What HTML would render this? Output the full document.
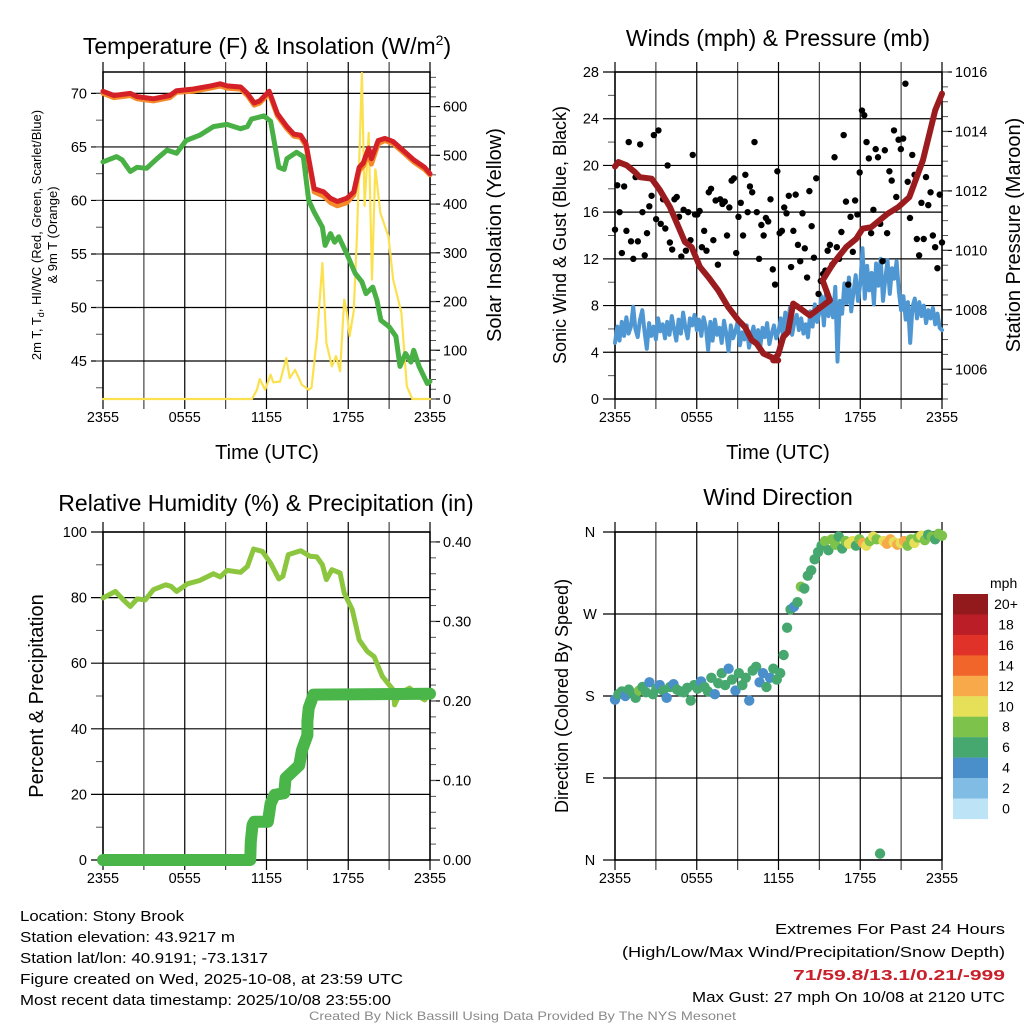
<!DOCTYPE html>
<html><head><meta charset="utf-8"><style>
html,body{margin:0;padding:0;background:#fff;}
svg{display:block;font-family:"Liberation Sans",sans-serif;}
</style></head><body>
<svg id="fig" width="1024" height="1024" viewBox="0 0 1024 1024" xmlns="http://www.w3.org/2000/svg">
<text x="267" y="54" font-size="23" text-anchor="middle">Temperature (F) &amp; Insolation (W/m<tspan dy="-9" font-size="14">2</tspan><tspan dy="9">)</tspan></text>
<text x="778" y="46" font-size="23" text-anchor="middle">Winds (mph) &amp; Pressure (mb)</text>
<text x="266" y="511" font-size="23" text-anchor="middle">Relative Humidity (%) &amp; Precipitation (in)</text>
<text x="778" y="505" font-size="23" text-anchor="middle">Wind Direction</text>
<text x="267" y="459" font-size="20" text-anchor="middle">Time (UTC)</text>
<text x="778" y="459" font-size="20" text-anchor="middle">Time (UTC)</text>
<text font-size="13" text-anchor="middle" transform="translate(41,235) rotate(-90)">2m T, T<tspan dy="3" font-size="9">d</tspan><tspan dy="-3">, HI/WC (Red, Green, Scarlet/Blue)</tspan></text>
<text font-size="13" text-anchor="middle" transform="translate(57,235) rotate(-90)">&amp; 9m T (Orange)</text>
<text font-size="20" text-anchor="middle" transform="translate(501,235) rotate(-90)">Solar Insolation (Yellow)</text>
<text font-size="18" text-anchor="middle" transform="translate(566,235) rotate(-90)">Sonic Wind &amp; Gust (Blue, Black)</text>
<text font-size="20" text-anchor="middle" transform="translate(1020,235) rotate(-90)">Station Pressure (Maroon)</text>
<text font-size="20" text-anchor="middle" transform="translate(43,696) rotate(-90)">Percent &amp; Precipitation</text>
<text font-size="18" text-anchor="middle" transform="translate(568,696) rotate(-90)">Direction (Colored By Speed)</text>
<g font-size="15" font-family="'Liberation Sans Narrow','Liberation Sans',sans-serif">
<text x="20" y="921" textLength="164" lengthAdjust="spacingAndGlyphs">Location: Stony Brook</text>
<text x="20" y="942" textLength="215" lengthAdjust="spacingAndGlyphs">Station elevation: 43.9217 m</text>
<text x="20" y="963" textLength="248" lengthAdjust="spacingAndGlyphs">Station lat/lon: 40.9191; -73.1317</text>
<text x="20" y="984" textLength="383" lengthAdjust="spacingAndGlyphs">Figure created on Wed, 2025-10-08, at 23:59 UTC</text>
<text x="20" y="1005" textLength="371" lengthAdjust="spacingAndGlyphs">Most recent data timestamp: 2025/10/08 23:55:00</text>
<text x="1005" y="934" text-anchor="end" textLength="230" lengthAdjust="spacingAndGlyphs">Extremes For Past 24 Hours</text>
<text x="1005" y="957" text-anchor="end" textLength="383" lengthAdjust="spacingAndGlyphs">(High/Low/Max Wind/Precipitation/Snow Depth)</text>
<text x="1005" y="980" text-anchor="end" fill="#c8202a" font-weight="bold" textLength="212" lengthAdjust="spacingAndGlyphs">71/59.8/13.1/0.21/-999</text>
<text x="1005" y="1002" text-anchor="end" textLength="313" lengthAdjust="spacingAndGlyphs">Max Gust: 27 mph On 10/08 at 2120 UTC</text>
<text x="309" y="1020" fill="#8a8a8a" font-size="12" textLength="427" lengthAdjust="spacingAndGlyphs">Created By Nick Bassill Using Data Provided By The NYS Mesonet</text>
</g>
</svg>
<script>
// ---------- data ----------
const timeLabels = ["2355","0555","1155","1755","2355"];
const tempHours = [0,0.8,2.0,2.5,3.7,4.9,5.4,6.6,7.9,8.6,9.1,10.1,10.6,11.1,11.5,12.2,12.8,13.5,14.0,14.5,14.9,15.5,16.2,16.7,17.2,17.9,18.4,18.8,19.1,19.5,19.7,20.2,20.7,21.3,22.1,22.8,23.6,24];
const temp2m = [70.2,69.8,70.0,69.7,69.5,69.8,70.25,70.4,70.7,70.9,70.7,70.6,70.0,69.1,69.3,70.2,68.1,66.9,66.2,66.1,65.3,61.1,60.8,60.2,59.9,60.2,60.8,63.1,63.5,64.9,63.9,65.6,65.8,65.5,64.6,63.8,63.1,62.5];
const temp9m = [70.0,69.6,69.8,69.5,69.3,69.6,70.1,70.2,70.5,70.7,70.5,70.4,69.8,68.9,69.1,70.0,67.9,66.7,66.0,65.9,65.1,60.8,60.4,59.8,59.5,59.8,60.5,62.8,63.2,64.5,63.4,65.3,65.6,65.3,64.4,63.6,62.9,62.4];
const dewHours = [0,1.0,1.4,2.0,2.5,3.2,3.96,4.7,5.4,6.1,7.1,8.1,9.1,10.1,10.6,10.9,11.8,12.3,12.9,13.3,13.5,14.2,14.7,15.1,15.5,16.1,16.3,16.7,17.0,17.3,17.9,18.5,19.0,19.3,19.8,20.1,20.4,21.0,21.5,21.8,22.2,22.6,22.8,23.2,23.8,24];
const dewPoint = [63.6,64.1,63.8,62.7,63.1,63.0,63.9,64.7,64.4,65.6,66.1,66.9,67.1,66.7,66.9,67.6,67.9,67.4,63.1,62.9,63.9,64.5,64.1,60.0,58.9,57.5,55.8,56.9,56.1,56.6,55.0,53.2,52.4,51.3,51.9,50.7,48.8,48.2,47.3,44.5,45.7,44.9,46.0,44.5,42.9,43.1];
const solarHours = [0,10.93,11.3,11.5,11.9,12.3,12.5,13.0,13.45,13.7,14.1,14.6,15.1,15.3,15.7,16.1,16.4,16.8,17.1,17.4,17.7,17.9,18.1,18.4,18.65,19.0,19.2,19.5,19.74,19.98,20.0,20.35,20.95,21.3,21.9,22.3,22.7,24];
const solarWm2 = [0,0,19,41,19,50,34,36,84,43,60,29,19,23,125,279,115,67,88,57,204,177,129,180,341,669,396,546,245,471,471,382,334,245,177,26,0,0];
const pressHours = [0,0.25,0.86,1.47,1.83,2.69,3.3,4.03,4.77,5.13,5.62,6.24,6.85,7.58,8.31,9.05,9.54,10.03,10.4,10.89,11.98,11.61,11.98,12.35,12.7,13.08,13.45,14.3,15.77,15.24,16.0,16.97,17.7,18.17,18.8,20.0,20.8,21.6,22.6,23.5,24];
const pressure = [1012.82,1012.97,1012.86,1012.63,1012.46,1012.41,1012.02,1011.46,1010.67,1010.28,1010.11,1009.44,1009.1,1008.65,1008.09,1007.65,1007.42,1006.98,1006.86,1006.53,1006.3,1006.3,1006.5,1007.09,1007.25,1008.21,1008.09,1007.81,1008.32,1008.99,1009.55,1010.11,1010.39,1010.73,1010.78,1011.23,1011.46,1011.79,1013.03,1014.71,1015.27];
const windMph = [4.8,6.2,5.0,6.6,5.4,7.0,5.6,6.2,7.9,6.0,5.3,6.8, 7.6,5.8,4.3,6.5,5.4,6.2,5.1,6.9,5.8,6.4,5.2,6.6, 5.5,7.1,6.0,5.0,6.8,5.6,7.4,6.1,5.2,6.9,6.3,7.2, 5.9,6.8,5.4,7.0,6.2,4.2,6.6,5.0,6.8,5.5,6.1,4.8, 6.7,5.6,4.1,6.3,5.2,5.8,6.6,4.6,5.7,5.1,6.3,4.4, 5.4,6.2,4.8,5.9,4.5,6.1,5.3,6.5,4.7,5.6,6.3,5.2, 5.8,6.9,5.4,7.4,6.0,7.8,5.5,6.6,7.2,5.9,6.9,5.6, 6.4,5.3,7.5,6.2,8.1,6.6,7.4,8.8,6.3,9.2,7.1,8.5, 7.0,9.6,3.2,8.4,7.3,9.9,8.2,10.4,7.5,9.1,10.6,8.4, 9.9,12.9,8.6,11.4,9.3,10.8,8.1,11.6,9.7,12.0,8.4,10.2, 11.9,9.0,11.2,10.3,11.8,9.2,7.6,8.8,6.8,8.3,4.8,7.9, 8.6,6.9,8.3,7.1,8.0,6.5,7.6,6.9,7.8,6.4,7.3,6.1,5.9];
const gustMph = [14.5,18.3,16,12.5,18.2,14.4, 22,13.5,12,19,13.5,21.8, 16,12.3,14.2,16.5,17.4,22.6, 15.4,23,15,17.1,14.6,20, 13.4,12.8,17.1,17.3,15.6,12.2, 16.2,12.7,16,13.6,20.9,15.8, 15.8,16.1,13,14.4,12.7,17.7, 18,13.6,17,11.5,17.1,16.7, 16.9,14,16.4,18.7,18.9,12.5, 15.6,16.8,14,19.2,16,18.2, 17.7,22,16,12,14.9,14, 15.5,15.2,17.1,11.1,9.8,19.5, 14.2,14.4,16.4,15.9,17.4,11.3, 14.4,17.5,13.2,11.8,15.9,12.9, 10.4,17.8,14.8,12.1,18.9,9, 10.1,10.7,11,12.7,13.2,11.5, 20.7,13,12,14.3,22.6,16.9, 9.8,15.6,12.6,17,15.8,19.4, 24.7,24.3,22,20.6,14.2,16.2, 21.4,20.7,15,11.8,21.3,14.2, 19.5,18.7,23,17.3,22.2,21.4, 22.3,27,18.6,15.5,20.9,19.2, 13.7,12.3,16.8,13.7,19,16.6, 17.7,14,13,11.2,17.5,13.4];
const rhHours = [0,0.9,1.5,2.0,2.5,3.1,3.7,4.6,5.0,5.4,6.2,7.1,8.1,8.6,9.1,10.1,10.6,11.05,11.7,12.3,12.9,13.2,13.6,14.5,15.2,15.7,16.1,16.4,16.8,17.4,17.7,18.3,18.8,19.4,19.9,20.5,20.9,21.3,21.4,21.8,22.5,23.0,23.6,24];
const rhPct = [79.9,81.9,79.3,77.3,79.6,79.3,82.4,83.9,83.4,81.9,84.2,85.2,87.3,86.3,88.3,87.7,89.5,94.8,94.1,90.5,85.7,86.5,93.1,94.3,92.6,92.4,90.0,85.5,88.5,87.5,81.4,76.3,67.1,63.6,62.0,56.0,53.9,51.9,47.3,50.9,52.4,50.4,48.8,50.9];
const precipHours = [0,10.8,10.85,10.97,11.1,12.1,12.3,12.6,13.3,13.4,13.9,14.4,14.6,15.0,15.0,15.1,15.45,24];
const precipIn = [0,0,0.023,0.044,0.048,0.048,0.071,0.082,0.084,0.103,0.111,0.119,0.138,0.157,0.174,0.191,0.208,0.209];
const dirDeg = [176,182,185,180,187,183,178,186,190,184,195,182,188,192,186,178,190,193,187,185,184,189,175,192,188,196,190,185,200,182,194,205,192,210,198,186,205,192,200,175,208,212,195,205,190,200,210,198,205,225,255,275,278,283,300,298,312,318,330,338,345,350,340,352,346,355,342,350,347,350,345,352,348,345,350,355,352,7,350,347,352,349,346,348,350,345,352,348,354,356,351,357,355,352,358,356];
const dirSpeed = [4,5,6,4,5,6,6,7,5,6,4,6,5,4,6,4,6,4,6,5,5,6,6,6,6,4,5,6,6,4,6,6,6,4,6,4,6,6,6,4,6,6,4,4,6,4,6,6,6,6,6,6,4,6,8,6,6,6,6,6,6,8,6,8,8,6,6,8,10,10,6,8,12,10,8,10,8,6,10,12,12,10,12,10,12,8,8,10,8,10,8,6,8,6,8,8];
const cbarLabels = ["20+","18","16","14","12","10","8","6","4","2","0"];
const cbarColors = ["#921a1d","#bb1e26","#e03228","#f2652a","#f8a94a","#e6df58","#7dc24a","#47a86f","#4a8fca","#80bce4","#bde3f7"];

// ---------- helpers ----------
const NS = "http://www.w3.org/2000/svg";
const svg = document.getElementById("fig");
function mk(tag, attrs, parent){const e=document.createElementNS(NS,tag);for(const k in attrs)e.setAttribute(k,attrs[k]);(parent||svg).appendChild(e);return e;}
function lin(d0,d1,r0,r1){return v=>r0+(v-d0)*(r1-r0)/(d1-d0);}
function speedColor(s){let i=Math.min(10,Math.floor(s/2+0.5));return cbarColors[10-i];}

function panel(name,x0,x1,y0,y1,leftDom,leftMaj,leftMin,leftFmt,rightDom,rightMaj,rightMin,rightFmt){
  const g=mk("g",{});
  
  
  const sx=lin(0,24,x0,x1), sy=lin(leftDom[0],leftDom[1],y1,y0);
  for(let h=0;h<=24;h+=3){
    const l=mk("line",{x1:sx(h),x2:sx(h),y1:y0-10,y2:y1+10,stroke:(h%6===0?"#000":"#444"),"stroke-width":1.2},g);
    
    
  }
  timeLabels.forEach((t,i)=>{
    const tx=mk("text",{x:sx(i*6),y:y1+23,"font-size":14.5,"text-anchor":"middle"},g);
    tx.textContent=t;
    
    
  });
  leftMaj.forEach(v=>{
    const l=mk("line",{x1:x0-12,x2:x1,y1:sy(v),y2:sy(v),stroke:"#000","stroke-width":1.2},g);
    
    
    const tx=mk("text",{x:x0-16,y:sy(v)+5,"font-size":14.5,"text-anchor":"end"},g);
    tx.textContent=leftFmt(v);
    
    
  });
  leftMin.forEach(v=>{
    const l=mk("line",{x1:x0-7,x2:x0,y1:sy(v),y2:sy(v),stroke:"#555","stroke-width":1},g);
    
    
  });
  if(rightDom){
    const ry=lin(rightDom[0],rightDom[1],y1,y0);
    rightMaj.forEach(v=>{
      const l=mk("line",{x1:x1,x2:x1+10,y1:ry(v),y2:ry(v),stroke:"#000","stroke-width":1.2},g);
      
      
      const tx=mk("text",{x:x1+13,y:ry(v)+5,"font-size":14.5},g);
      tx.textContent=rightFmt(v);
      
      
    });
    rightMin.forEach(v=>{
      const l=mk("line",{x1:x1,x2:x1+6,y1:ry(v),y2:ry(v),stroke:"#555","stroke-width":1},g);
      
      
    });
  }
  const f=mk("rect",{x:x0,y:y0,width:x1-x0,height:y1-y0,fill:"none",stroke:"#000","stroke-width":1.5},g);
  
  
  return {sx,sy,ry:rightDom?lin(rightDom[0],rightDom[1],y1,y0):null};
}
function range(a,b,s){const r=[];for(let v=a;v<=b+1e-9;v+=s)r.push(+v.toFixed(4));return r;}
function poly(xs,ys,sx,sy,color,w,name,cap){
  const pts=xs.map((h,i)=>sx(h).toFixed(1)+","+sy(ys[i]).toFixed(1)).join(" ");
  const p=mk("polyline",{points:pts,fill:"none",stroke:color,"stroke-width":w,"stroke-linejoin":"round","stroke-linecap":cap||"round"});
  
  
  return p;
}

// ---------- panel 1 ----------
const p1=panel("temp",103,430,72,399,[41.45,72.0],[45,50,55,60,65,70],range(42.5,72,2.5),v=>v,[0,671],[0,100,200,300,400,500,600],range(0,660,20),v=>v);
poly(solarHours,solarWm2,p1.sx,p1.ry,"#fbe14f",2.2,"solar-line");
poly(tempHours,temp9m,p1.sx,p1.sy,"#f58a2a",5,"temp-9m-line");
poly(tempHours,temp2m,p1.sx,p1.sy,"#d42127",5,"temp-2m-line");
poly(dewHours,dewPoint,p1.sx,p1.sy,"#48b045",5,"dewpoint-line");

// ---------- panel 2 ----------
const p2=panel("wind",615,942,72,399,[0,28],[0,4,8,12,16,20,24,28],range(2,26,4),v=>v,[1005,1016],[1006,1008,1010,1012,1014,1016],range(1005,1016,0.5),v=>v);
const windHours=windMph.map((_,i)=>i*24/(windMph.length-1));
poly(windHours,windMph,p2.sx,p2.sy,"#4f97d2",4,"wind-speed-line");
gustMph.forEach((g,i)=>{
  const c=mk("circle",{cx:p2.sx(i*24/(gustMph.length-1)),cy:p2.sy(g),r:3.2,fill:"#000"});
  
  
});
poly(pressHours,pressure,p2.sx,p2.ry,"#9b1c1e",6,"pressure-line");

// ---------- panel 3 ----------
const p3=panel("rh",103,430,532,860,[0,100],[0,20,40,60,80,100],range(10,90,20),v=>v,[0,0.4125],[0,0.1,0.2,0.3,0.4],range(0.02,0.4,0.02),v=>v.toFixed(2));
poly(rhHours,rhPct,p3.sx,p3.sy,"#8cc63e",5,"rh-line");
poly(precipHours,precipIn,p3.sx,p3.ry,"#4ab548",12,"precip-line");

// ---------- panel 4 ----------
const p4=panel("dir",615,942,532,860,[0,360],[],[],v=>v,null);
const dsy=lin(0,360,860,532);
[["N",360],["W",270],["S",180],["E",90],["N",0]].forEach(([lab,v])=>{
  const l=mk("line",{x1:603,x2:942,y1:dsy(v),y2:dsy(v),stroke:"#000","stroke-width":1.2});
  
  
  const t=mk("text",{x:590,y:dsy(v)+5,"font-size":14.5,"text-anchor":"middle"});
  t.textContent=lab;
  
  
});
dirDeg.forEach((d,i)=>{
  const c=mk("circle",{cx:p4.sx(i*24/(dirDeg.length-1)),cy:dsy(d),r:5.2,fill:speedColor(dirSpeed[i])});
  
  
});
const cbTitle=mk("text",{x:990,y:588,"font-size":14});
cbTitle.textContent="mph";


cbarLabels.forEach((lab,i)=>{
  const r=mk("rect",{x:953,y:594+i*20.45,width:35,height:20.6,fill:cbarColors[i]});
  
  
  const t=mk("text",{x:1006,y:594+i*20.45+15,"font-size":14,"text-anchor":"middle"});
  t.textContent=lab;
  
  
});
</script>
</body></html>
